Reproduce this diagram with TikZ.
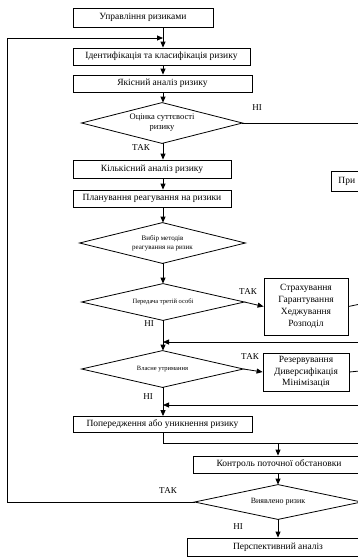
\documentclass[tikz,border=0pt]{standalone}
\usepackage{fontspec}
\setmainfont{Liberation Serif}
\usetikzlibrary{arrows.meta}
\begin{document}
\begin{tikzpicture}[x=1pt,y=-1pt, line width=0.8pt,
  box/.style={draw, inner sep=0pt, align=center, font=\fontsize{9.5}{12}\selectfont},
  dia/.style={inner sep=0pt, align=center, font=\fontsize{7}{8.5}\selectfont},
  lbl/.style={font=\fontsize{9}{10}\selectfont, inner sep=0pt},
  arr/.style={-{Triangle[length=6pt,width=5pt]}}]
\useasboundingbox (0,0) rectangle (358,557);
\clip (0,0) rectangle (358,557);
\fill[white] (0,0) rectangle (358,557);
\coordinate (ax) at (163,0);

% boxes
\node[box, minimum width=140, minimum height=19] (b0) at (143,17.5) {Управління ризиками};
\node[box, minimum width=177, minimum height=17] (b1) at (161.5,56.5) {Ідентифікація та класифікація ризику};
\node[box, minimum width=179, minimum height=17] (b2) at (162.5,83.5) {Якісний аналіз ризику};
\node[dia, minimum width=160, minimum height=40, font=\fontsize{8.5}{10}\selectfont] (d1) at (162,123) {Оцінка суттєвості\\ризику};
\node[box, minimum width=158, minimum height=18] (b3) at (152,169) {Кількісний аналіз ризику};
\node[box, minimum width=158, minimum height=17] (b4) at (152,198.5) {Планування реагування на ризики};
\node[dia, minimum width=165, minimum height=40] (d2) at (162.5,243) {Вибір методів\\реагування на ризик};
\node[dia, minimum width=162, minimum height=36, font=\fontsize{6.5}{8}\selectfont] (d3) at (163,302) {Передача третій особі};
\node[box, minimum width=84, minimum height=57] (b5) at (306,306.5) {Страхування\\Гарантування\\Хеджування\\Розподіл};
\node[dia, minimum width=161, minimum height=36, font=\fontsize{6.5}{8}\selectfont] (d4) at (162.5,369) {Власне утримання};
\node[box, minimum width=86, minimum height=38, font=\fontsize{9.5}{11.5}\selectfont] (b6) at (306,372) {Резервування\\Диверсифікація\\Мінімізація};
\node[box, minimum width=179, minimum height=16] (b7) at (162.5,424.5) {Попередження або уникнення ризику};
\node[box, minimum width=172, minimum height=17] (b8) at (279,464.5) {Контроль поточної обстановки};
\node[dia, minimum width=166, minimum height=34, font=\fontsize{8}{9}\selectfont] (d5) at (278,502) {Виявлено ризик};
\node[box, minimum width=182, minimum height=18] (b9) at (278,547) {Перспективний аналіз};
\node[box, anchor=west, minimum height=20, text width=60pt, align=left, inner xsep=7pt] (b10) at (331,181) {При};

% diamond outlines
\foreach \d in {d1,d2,d3,d4,d5}
  \draw (\d.north) -- (\d.east) -- (\d.south) -- (\d.west) -- cycle;

% coordinates at the cut edge
\coordinate (r1) at (370,123);
\coordinate (r2) at (370,302);
\coordinate (r3) at (370,342);
\coordinate (r4) at (370,370);
\coordinate (r5) at (370,405);
\coordinate (r6) at (370,443);
\coordinate (j6) at (163,443);
\coordinate (k6) at (278,443);
\coordinate (l1) at (7,502);
\coordinate (l2) at (7,38);
\coordinate (l3) at (163,38);

% connectors
\draw[arr] (b0.south -| ax) -- (b1.north -| ax);
\draw[arr] (b1.south -| ax) -- (b2.north -| ax);
\draw[arr] (b2.south -| ax) -- (d1.north -| ax);
\draw[arr] (d1.south -| ax) -- (b3.north -| ax);
\draw[arr] (b3.south -| ax) -- (b4.north -| ax);
\draw[arr] (b4.south -| ax) -- (d2.north -| ax);
\draw[arr] (d2.south -| ax) -- (d3.north -| ax);
\draw[arr] (d3.south -| ax) -- (d4.north -| ax);
\draw[arr] (d4.south -| ax) -- (b7.north -| ax);
\draw (d1.east) -- (r1);
\draw[arr] (d3.east) -- (b5.west);
\draw (b5.east) -- (r2);
\draw[arr] (r3) -- (r3 -| ax);
\draw[arr] (d4.east) -- (b6.west);
\draw (b6.east) -- (r4);
\draw[arr] (r5) -- (r5 -| ax);
\draw (b7.south -| ax) -- (j6) -- (r6);
\draw[arr] (k6) -- (b8.north -| k6);
\draw[arr] (b8.south -| d5) -- (d5.north);
\draw[arr] (d5.south) -- (b9.north -| d5);
\draw[arr] (d5.west) -- (l1) -- (l2) -- (l3);

% labels
\node[lbl] (t1) at (257,108) {НІ};
\node[lbl] (t2) at (141,148) {ТАК};
\node[lbl] (t3) at (248,292) {ТАК};
\node[lbl] (t4) at (149,324) {НІ};
\node[lbl] (t5) at (250,357) {ТАК};
\node[lbl] (t6) at (148,397) {НІ};
\node[lbl] (t7) at (168,491) {ТАК};
\node[lbl] (t8) at (238,527) {НІ};
\end{tikzpicture}
\end{document}
